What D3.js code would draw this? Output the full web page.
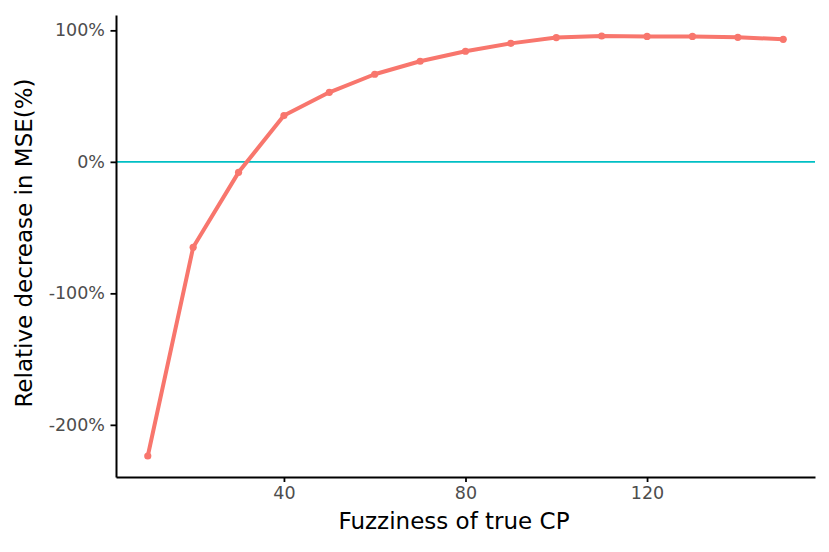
<!DOCTYPE html>
<html><head><meta charset="utf-8">
<script src="https://cdn.jsdelivr.net/npm/d3@7"></script>
<style>body{margin:0;background:#fff}text{font-family:"DejaVu Sans",sans-serif}</style>
</head><body>
<svg id="c" width="829" height="552"></svg>
<script>
const fuzziness = [10,20,30,40,50,60,70,80,90,100,110,120,130,140,150];
const decrease = [-223.7,-65.0,-8.0,35.2,52.9,66.6,76.5,84.1,90.1,94.5,95.7,95.4,95.4,94.7,93.2];
const xTicks = [40,80,120];
const yTicks = [-200,-100,0,100];

const svg = d3.select("#c");
const L=116,R=815,T=15,B=477;
const xmin=d3.min(fuzziness), xmax=d3.max(fuzziness);
const xe=(xmax-xmin)*0.05;
const x=d3.scaleLinear().domain([xmin-xe,xmax+xe]).range([L,R]);
const ymin=d3.min(decrease), ymax=d3.max(decrease);
const ye=(ymax-ymin)*0.05;
const y=d3.scaleLinear().domain([ymin-ye,ymax+ye]).range([B,T]);

// zero line
svg.append("line").attr("x1",L).attr("x2",R).attr("y1",y(0)).attr("y2",y(0))
  .attr("stroke","#00BFC4").attr("stroke-width",1.8);

const data=fuzziness.map((f,i)=>({f,v:decrease[i]}));
svg.append("path").datum(data)
  .attr("d",d3.line().x(d=>x(d.f)).y(d=>y(d.v)))
  .attr("fill","none").attr("stroke","#F8766D").attr("stroke-width",4).attr("stroke-linejoin","round");
svg.selectAll("circle.p").data(data).join("circle")
  .attr("cx",d=>x(d.f)).attr("cy",d=>y(d.v)).attr("r",3.6).attr("fill","#F8766D");

const xa=svg.append("g").attr("transform",`translate(0,${B})`)
  .call(d3.axisBottom(x).tickValues(xTicks).tickSize(5).tickPadding(5).tickSizeOuter(0));
const ya=svg.append("g").attr("transform",`translate(${L},0)`)
  .call(d3.axisLeft(y).tickValues(yTicks).tickFormat(d=>d+"%").tickSize(5.5).tickPadding(5.5).tickSizeOuter(0));
[xa,ya].forEach(a=>{
  a.select(".domain").attr("stroke","#000").attr("stroke-width",2);
  a.selectAll(".tick line").attr("stroke","#000").attr("stroke-width",1.8);
  a.selectAll(".tick text").attr("fill","#4d4d4d").style("font-size","17.5px").style("font-family","DejaVu Sans");
});

svg.append("text").attr("x",454).attr("y",529).attr("text-anchor","middle")
  .style("font-size","23px").attr("fill","#000").text("Fuzziness of true CP");
svg.append("text").attr("transform",`translate(32,243) rotate(-90)`).attr("text-anchor","middle")
  .style("font-size","23px").attr("fill","#000").text("Relative decrease in MSE(%)");
</script>
</body></html>
